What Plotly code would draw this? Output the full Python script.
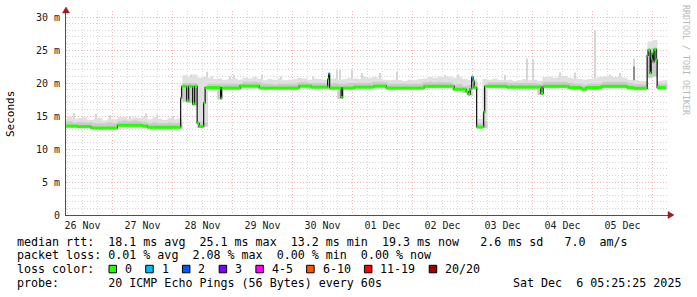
import plotly.graph_objects as go
import pandas as pd
import numpy as np

# ---------------- data ----------------
median_times = [
    "2025-11-26 05:25", "2025-11-26 10:00", "2025-11-26 15:30", "2025-11-27 02:00",
    "2025-11-27 12:00", "2025-11-27 14:00", "2025-11-28 03:17", "2025-11-28 03:41",
    "2025-11-28 05:41", "2025-11-28 06:29", "2025-11-28 08:05", "2025-11-28 08:53",
    "2025-11-28 09:53", "2025-11-28 10:41", "2025-11-28 12:29", "2025-11-28 13:05",
    "2025-11-28 19:17", "2025-11-28 19:41", "2025-11-29 03:05", "2025-11-29 10:41",
    "2025-11-30 02:41", "2025-11-30 07:29", "2025-11-30 14:05", "2025-11-30 14:29",
    "2025-11-30 14:53", "2025-11-30 19:29", "2025-11-30 20:05", "2025-12-01 00:41",
    "2025-12-01 08:41", "2025-12-01 13:29", "2025-12-02 04:41", "2025-12-02 16:41",
    "2025-12-02 21:29", "2025-12-02 22:17", "2025-12-02 23:05", "2025-12-02 23:41",
    "2025-12-03 00:17", "2025-12-03 00:41", "2025-12-03 01:41", "2025-12-03 04:29",
    "2025-12-03 04:53", "2025-12-03 13:46", "2025-12-04 03:22", "2025-12-04 04:17",
    "2025-12-04 14:41", "2025-12-04 19:29", "2025-12-04 21:29", "2025-12-05 03:29",
    "2025-12-05 13:53", "2025-12-05 16:41", "2025-12-05 21:53", "2025-12-05 22:17",
    "2025-12-05 23:05", "2025-12-05 23:29", "2025-12-05 23:53", "2025-12-06 00:17",
    "2025-12-06 00:41", "2025-12-06 01:29", "2025-12-06 01:53",
]
median_ms = [
    13.5, 13.4, 13.2, 13.6, 13.5, 13.3, 17.7, 19.5,
    17.3, 19.5, 16.8, 19.5, 13.9, 13.4, 17.0, 19.3,
    17.7, 19.25, 19.55, 19.25, 19.55, 19.4, 20.6, 21.4,
    19.25, 17.8, 19.25, 19.4, 19.55, 19.25, 19.5, 19.05,
    18.7, 18.3, 19.1, 20.9, 20.3, 19.3, 13.35, 15.6,
    19.5, 19.4, 18.4, 19.5, 19.3, 19.1, 19.3, 19.5,
    19.3, 19.2, 24.2, 25.0, 21.5, 23.8, 24.5, 23.2,
    25.1, 23.5, 19.3,
]
median_loss = [
    0, 0, 0, 0, 0, 0, 0, 0,
    0, 0, 0, 0, 0, 0, 0, 0,
    0, 0, 0, 0, 0, 0, 0, 1,
    0, 0, 0, 0, 0, 0, 0, 0,
    0, 0, 0, 1, 0, 0, 0, 0,
    0, 0, 0, 0, 0, 0, 0, 0,
    0, 0, 1, 0, 0, 0, 0, 0,
    0, 0, 0,
]
graph_start = "2025-11-26 05:25:25"
graph_end = "2025-12-06 05:25:25"

# smoke (ping spread) sampled every 2 hours from smoke_start
smoke_start = "2025-11-26 04:00"
smoke_lo = [
    13.2, 13.2, 13.2, 13.1, 13.1, 13.1, 13.0, 13.0, 13.0, 13.0,
    13.0, 13.3, 13.3, 13.3, 13.3, 13.3, 13.2, 13.1, 13.0, 13.0, 13.0, 13.0,
    13.0, 13.0, 17.2, 17.0, 16.6, 13.2, 13.4, 19.0, 19.0, 17.5, 19.0, 19.0,
    19.0, 19.0, 19.2, 19.2, 19.2, 19.2, 19.0, 19.0, 19.0, 19.0, 19.0, 19.0,
    19.0, 19.2, 19.2, 19.1, 19.1, 19.1, 19.1, 19.0, 19.0, 17.6, 19.0, 19.0,
    19.1, 19.1, 19.1, 19.1, 19.2, 19.2, 19.2, 19.0, 19.0, 19.0, 19.0, 19.0,
    19.0, 19.0, 19.2, 19.2, 19.2, 19.2, 19.2, 19.2, 18.8, 18.8, 18.5, 18.1,
    19.0, 13.1, 13.2, 19.2, 19.2, 19.2, 19.2, 19.1, 19.1, 19.1, 19.1, 19.1,
    19.1, 18.2, 19.2, 19.2, 19.2, 19.2, 19.2, 19.1, 19.0, 19.0, 18.8, 19.0,
    19.0, 19.0, 19.2, 19.2, 19.2, 19.2, 19.2, 19.0, 18.9, 18.9, 18.9, 20.8,
    21.0, 19.0, 19.0,
]
smoke_dense = [
    14.1, 14.2, 14.0, 14.1, 14.0, 14.0, 13.9, 13.9, 13.9, 14.0,
    13.9, 14.2, 14.3, 14.2, 14.3, 14.2, 14.1, 13.9, 14.0, 13.9, 13.9, 14.0,
    13.9, 14.0, 20.0, 20.0, 20.0, 14.2, 14.0, 19.9, 19.9, 19.9, 19.9, 19.9,
    19.9, 19.9, 20.2, 20.1, 20.2, 20.1, 19.9, 19.9, 19.8, 19.9, 19.9, 19.9,
    19.9, 20.1, 20.1, 20.0, 20.0, 20.0, 20.0, 19.9, 20.0, 19.9, 19.9, 20.0,
    20.0, 20.0, 20.0, 20.0, 20.2, 20.2, 20.1, 19.9, 19.9, 19.9, 19.9, 19.9,
    19.9, 19.9, 20.1, 20.2, 20.1, 20.2, 20.1, 20.1, 19.8, 19.8, 19.5, 19.7,
    20.2, 13.9, 14.2, 20.1, 20.1, 20.1, 20.1, 20.0, 20.0, 20.0, 20.0, 20.0,
    20.0, 19.9, 20.2, 20.2, 20.2, 20.2, 20.2, 20.0, 19.9, 19.9, 19.7, 19.9,
    19.9, 19.9, 20.2, 20.2, 20.2, 20.2, 20.2, 20.0, 19.8, 19.8, 19.8, 25.2,
    25.3, 19.9, 19.9,
]
smoke_hi = [
    14.6, 14.9, 14.5, 14.7, 14.8, 14.4, 14.5, 14.7, 14.3, 14.6,
    14.5, 14.8, 14.9, 14.6, 14.8, 14.7, 14.9, 14.5, 14.8, 14.6, 14.4, 14.7,
    14.5, 14.6, 21.2, 21.0, 21.3, 20.8, 20.9, 20.8, 20.6, 20.7, 20.5, 20.6,
    20.7, 20.5, 20.8, 20.7, 20.9, 20.6, 20.4, 20.6, 20.5, 20.7, 20.4, 20.5,
    20.6, 20.8, 20.7, 20.5, 20.7, 20.6, 20.5, 20.6, 20.7, 20.5, 20.6, 20.8,
    20.7, 20.6, 20.9, 20.8, 20.9, 20.7, 20.5, 20.4, 20.5, 20.4, 20.3, 20.5,
    20.4, 20.6, 20.7, 20.9, 20.8, 21.0, 20.9, 21.0, 20.8, 20.9, 20.6, 20.4,
    20.6, 14.6, 20.6, 20.5, 20.7, 20.5, 20.4, 20.5, 20.3, 20.4, 20.6, 20.4,
    20.5, 20.3, 20.9, 21.0, 20.8, 20.9, 21.1, 20.8, 20.7, 20.6, 20.5, 20.6,
    20.7, 20.9, 21.0, 21.1, 20.9, 21.0, 20.8, 20.5, 20.4, 20.3, 20.3, 26.3,
    26.5, 20.3, 20.4,
]

# isolated smoke spikes (single RRD steps)
spike_times = [
    "2025-11-26 08:41", "2025-11-26 17:29", "2025-11-26 23:07", "2025-11-27 07:05",
    "2025-11-27 13:29", "2025-11-27 17:53", "2025-11-28 00:17", "2025-11-28 04:41",
    "2025-11-28 07:29", "2025-11-28 13:53", "2025-11-28 15:53", "2025-11-28 23:05",
    "2025-11-29 00:41", "2025-11-29 08:41", "2025-11-29 11:53", "2025-11-29 19:29",
    "2025-11-30 08:17", "2025-11-30 17:53", "2025-11-30 19:05", "2025-11-30 23:53",
    "2025-12-01 03:53", "2025-12-01 11:05", "2025-12-01 17:53", "2025-12-02 13:05",
    "2025-12-02 18:17", "2025-12-03 13:05", "2025-12-03 21:53", "2025-12-04 00:17",
    "2025-12-04 11:05", "2025-12-04 17:05", "2025-12-05 00:58", "2025-12-05 07:05",
    "2025-12-05 11:05", "2025-12-05 16:41", "2025-12-06 00:41",
]
spike_tops = [
    15.4, 15.3, 15.1, 15.0,
    15.4, 15.2, 15.0, 21.2,
    21.3, 21.7, 21.0, 21.0,
    21.2, 20.9, 21.2, 21.0,
    21.0, 22.0, 22.0, 22.0,
    21.5, 21.5, 21.7, 21.2,
    21.3, 21.2, 23.7, 23.5,
    21.6, 21.6, 28.0, 21.3,
    21.5, 23.7, 26.5,
]
dark_spike_times = ["2025-12-05 16:41"]
dark_spike_bottoms = [19.4]
dark_spike_tops = [22.5]

day_labels = ["26 Nov", "27 Nov", "28 Nov", "29 Nov", "30 Nov",
              "01 Dec", "02 Dec", "03 Dec", "04 Dec", "05 Dec"]
day_label_times = ["2025-11-26 12:00", "2025-11-27 12:00", "2025-11-28 12:00",
                   "2025-11-29 12:00", "2025-11-30 12:00", "2025-12-01 12:00",
                   "2025-12-02 12:00", "2025-12-03 12:00", "2025-12-04 12:00",
                   "2025-12-05 12:00"]
y_tick_vals = [0, 5, 10, 15, 20, 25, 30]
y_tick_text = ["0", "5 m", "10 m", "15 m", "20 m", "25 m", "30 m"]

loss_labels = ["0", "1", "2", "3", "4-5", "6-10", "11-19", "20/20"]
loss_colors = ["#26ff00", "#00b8ff", "#0059ff", "#7e00ff",
               "#ff00ff", "#ff5500", "#ff0000", "#a10000"]

stats_lines = [
    "median rtt:  18.1 ms avg  25.1 ms max  13.2 ms min  19.3 ms now   2.6 ms sd   7.0  am/s",
    "packet loss: 0.01 % avg  2.08 % max  0.00 % min  0.00 % now",
    "loss color:",
    "probe:       20 ICMP Echo Pings (56 Bytes) every 60s",
]
stamp_text = "Sat Dec  6 05:25:25 2025"

# ---------------- geometry / style ----------------
W, H = 697, 297
PL, PR, PT, PB = 66, 668, 11, 215
PX_PER_MS = 6.6
PX_PER_HOUR = 2.5
MONO = "DejaVu Sans Mono"
BAND = 1.5 / PX_PER_MS

def px(x):
    return (x - PL) / (PR - PL)

def py(y):
    return (PB - y) / (PB - PT)

def nb(s):
    return s.replace(" ", "\u00a0")

def loss_index(l):
    if l <= 3:
        return l
    if l <= 5:
        return 4
    if l <= 10:
        return 5
    if l <= 19:
        return 6
    return 7

t_start = pd.Timestamp(graph_start)
x_end = t_start + pd.Timedelta(hours=(PR - PL) / PX_PER_HOUR)

fig = go.Figure()

# smoke
s_times = list(pd.date_range(smoke_start, periods=len(smoke_lo), freq="2h"))
s_times_ext = s_times + [s_times[-1] + pd.Timedelta(hours=2)]
lo_ext = smoke_lo + [smoke_lo[-1]]
hi_ext = smoke_hi + [smoke_hi[-1]]
de_ext = smoke_dense + [smoke_dense[-1]]

common = dict(mode="lines", line=dict(width=0, shape="hv"), hoverinfo="skip", showlegend=False)
fig.add_trace(go.Scatter(x=s_times_ext, y=lo_ext, **common))
fig.add_trace(go.Scatter(x=s_times_ext, y=hi_ext, fill="tonexty", fillcolor="#e0e0e0", **common))
fig.add_trace(go.Scatter(x=s_times_ext, y=lo_ext, **common))
fig.add_trace(go.Scatter(x=s_times_ext, y=de_ext, fill="tonexty", fillcolor="#cacaca", **common))

# spikes (bars are drawn beneath the scatter layers)
s_idx = [int((pd.Timestamp(t) - s_times[0]) / pd.Timedelta(hours=2)) for t in spike_times]
spike_base = [smoke_lo[i] for i in s_idx]
fig.add_trace(go.Bar(x=spike_times, base=spike_base,
                     y=[t - b for t, b in zip(spike_tops, spike_base)],
                     width=[24 * 60 * 1000] * len(spike_times),
                     marker=dict(color="#d6d6d6", line=dict(width=0)),
                     hoverinfo="skip", showlegend=False))
fig.add_trace(go.Bar(x=dark_spike_times, base=dark_spike_bottoms,
                     y=[t - b for t, b in zip(dark_spike_tops, dark_spike_bottoms)],
                     width=[24 * 60 * 1000] * len(dark_spike_times),
                     marker=dict(color="#8c8c8c", line=dict(width=0)),
                     hoverinfo="skip", showlegend=False))

# black median line
ends = median_times[1:] + [graph_end]
fig.add_trace(go.Scatter(x=median_times + [graph_end], y=median_ms + [median_ms[-1]],
                         mode="lines", line=dict(color="#111111", width=1.2, shape="hv"),
                         hoverinfo="skip", showlegend=False))

# coloured median band, one run per loss colour
n = len(median_times)
i = 0
while i < n:
    j = i
    while j + 1 < n and median_loss[j + 1] == median_loss[i]:
        j += 1
    xs = median_times[i:j + 1] + [ends[j]]
    ys = median_ms[i:j + 1] + [median_ms[j]]
    col = loss_colors[loss_index(median_loss[i])]
    fig.add_trace(go.Scatter(x=xs, y=[v - BAND for v in ys], **common))
    fig.add_trace(go.Scatter(x=xs, y=[v + BAND for v in ys], fill="tonexty",
                             fillcolor=col, **common))
    i = j + 1

# dummy trace for the label axis
fig.add_trace(go.Scatter(x=day_label_times, y=[None] * len(day_label_times), xaxis="x2",
                         mode="markers", hoverinfo="skip", showlegend=False))

GRID = "#d6d6d6"
MGRID = "#f0b4b4"
DASH = "1px,2px"

fig.update_layout(
    width=W, height=H,
    margin=dict(l=PL, r=W - PR, t=PT, b=H - PB, pad=0),
    paper_bgcolor="white", plot_bgcolor="white",
    barmode="overlay",
    showlegend=False,
    xaxis=dict(
        type="date", range=[t_start, x_end],
        tick0="2025-11-26", dtick=86400000,
        showgrid=True, gridcolor=MGRID, griddash=DASH, gridwidth=1,
        minor=dict(dtick=6 * 3600000, tick0="2025-11-26", showgrid=True,
                   gridcolor=GRID, griddash=DASH, gridwidth=1),
        showticklabels=False, ticks="", zeroline=False,
        showline=True, linecolor="#505050", linewidth=1,
    ),
    xaxis2=dict(
        type="date", overlaying="x", anchor="y", side="bottom",
        range=[t_start, x_end],
        tickvals=day_label_times, ticktext=day_labels,
        showgrid=False, zeroline=False, showline=False,
        ticks="outside", ticklen=1, tickcolor="rgba(0,0,0,0)",
        tickfont=dict(family=MONO, size=10, color="#1a1a1a"),
    ),
    yaxis=dict(
        range=[0, (PB - PT) / PX_PER_MS],
        tickvals=y_tick_vals, ticktext=y_tick_text,
        showgrid=True, gridcolor=MGRID, griddash=DASH, gridwidth=1,
        minor=dict(dtick=1, showgrid=True, gridcolor=GRID, griddash=DASH, gridwidth=1),
        zeroline=False, showline=True, linecolor="#505050", linewidth=1,
        ticks="outside", ticklen=3, tickcolor="rgba(0,0,0,0)",
        tickfont=dict(family=MONO, size=10, color="#1a1a1a"),
    ),
    font=dict(family=MONO),
)

ann = []
line_y = [241.7, 255.2, 269.0, 282.7]
for k, txt in enumerate(stats_lines):
    ann.append(dict(xref="paper", yref="paper", x=px(15), y=py(line_y[k]),
                    xanchor="left", yanchor="middle", showarrow=False, text=nb(txt),
                    font=dict(family=MONO, size=11.66, color="#000000")))
ann.append(dict(xref="paper", yref="paper", x=px(682.5), y=py(line_y[3]),
                xanchor="right", yanchor="middle", showarrow=False, text=nb(stamp_text),
                font=dict(family=MONO, size=11.66, color="#000000")))
ann.append(dict(xref="paper", yref="paper", x=px(10), y=py(114),
                xanchor="center", yanchor="middle", showarrow=False, text="Seconds",
                textangle=-90, font=dict(family=MONO, size=11, color="#000000")))
ann.append(dict(xref="paper", yref="paper", x=px(686), y=py(60),
                xanchor="center", yanchor="middle", showarrow=False,
                text=nb("RRDTOOL / TOBI OETIKER"), textangle=90,
                font=dict(family=MONO, size=8.3, color="#b8b8b8")))

shapes = []
sx = 109.0
CHAR = 7.02
for lab, col in zip(loss_labels, loss_colors):
    shapes.append(dict(type="rect", xref="paper", yref="paper",
                       x0=px(sx), x1=px(sx + 7.5), y0=py(272.8), y1=py(265.3),
                       line=dict(color="#000000", width=1), fillcolor=col))
    ann.append(dict(xref="paper", yref="paper", x=px(sx + 14), y=py(line_y[2]),
                    xanchor="left", yanchor="middle", showarrow=False, text=lab,
                    font=dict(family=MONO, size=11.66, color="#000000")))
    sx = sx + 15 + len(lab) * CHAR + 14.7

ARROW = "#9b1c1c"
shapes.append(dict(type="path", xref="paper", yref="paper",
                   path=f"M {px(66)},{py(7.0)} L {px(62.5)},{py(13)} L {px(69.5)},{py(13)} Z",
                   fillcolor=ARROW, line=dict(color=ARROW, width=0.5)))
shapes.append(dict(type="path", xref="paper", yref="paper",
                   path=f"M {px(674)},{py(215)} L {px(668)},{py(211.5)} L {px(668)},{py(218.5)} Z",
                   fillcolor=ARROW, line=dict(color=ARROW, width=0.5)))

fig.update_layout(annotations=ann, shapes=shapes)

fig.write_html("out.html")
